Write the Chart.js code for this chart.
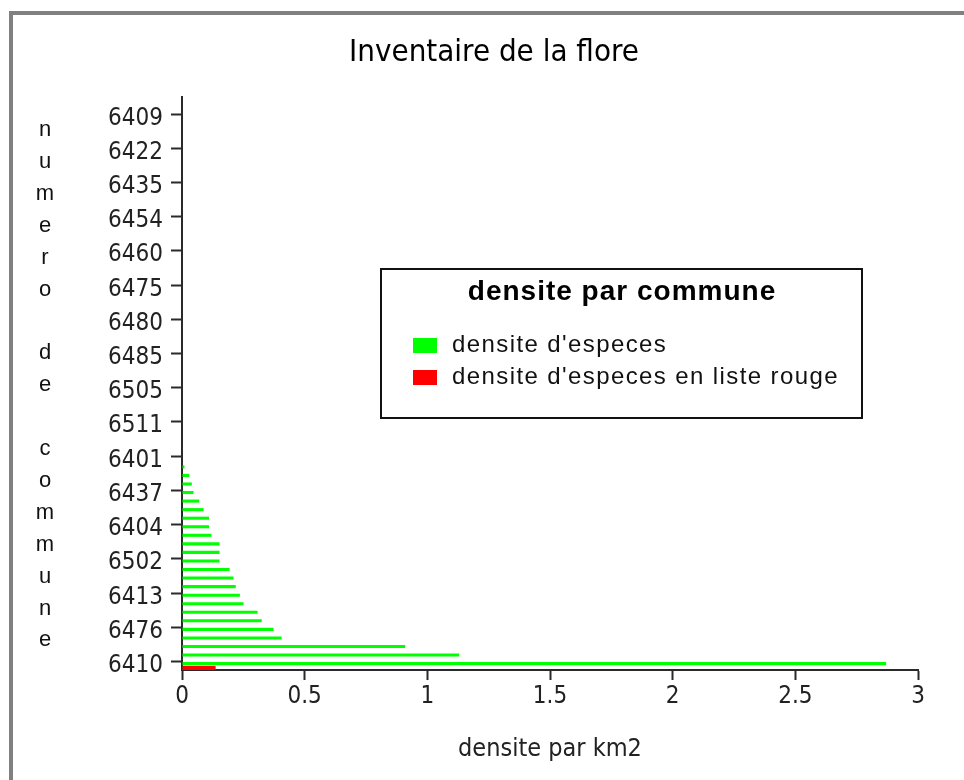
<!DOCTYPE html>
<html>
<head>
<meta charset="utf-8">
<script src="https://cdn.jsdelivr.net/npm/chart.js@4.4.1/dist/chart.umd.min.js"></script>
<style>
  html, body { margin: 0; padding: 0; background: #fff; }
  #wrap { position: relative; width: 964px; height: 780px; }
</style>
</head>
<body>
<div id="wrap"><canvas id="c" width="964" height="780"></canvas></div>
<script>
// Communes (top to bottom); '' = commune whose number is not printed on the axis
const communes = [
  '', '', '6409', '', '', '', '6422', '', '', '', '6435', '', '', '', '6454', '', '', '',
  '6460', '', '', '', '6475', '', '', '', '6480', '', '', '', '6485', '', '', '',
  '6505', '', '', '', '6511', '', '', '', '6401', '', '', '', '6437', '', '', '',
  '6404', '', '', '', '6502', '', '', '', '6413', '', '', '', '6476', '', '', '', '6410'
];
// densite d'especes (per km2)
const densiteEspeces = [
  0, 0, 0, 0, 0, 0, 0, 0, 0, 0, 0, 0, 0, 0, 0, 0, 0, 0,
  0, 0, 0, 0, 0, 0, 0, 0, 0, 0, 0, 0, 0, 0, 0, 0,
  0, 0, 0, 0, 0, 0, 0, 0, 0, 0.01, 0.03, 0.04, 0.047, 0.07, 0.088, 0.11,
  0.11, 0.12, 0.153, 0.153, 0.153, 0.194, 0.21, 0.219, 0.236, 0.251, 0.308, 0.325,
  0.373, 0.406, 0.91, 1.13, 2.87
];
// densite d'especes en liste rouge (per km2)
const densiteListeRouge = [
  0, 0, 0, 0, 0, 0, 0, 0, 0, 0, 0, 0, 0, 0, 0, 0, 0, 0,
  0, 0, 0, 0, 0, 0, 0, 0, 0, 0, 0, 0, 0, 0, 0, 0,
  0, 0, 0, 0, 0, 0, 0, 0, 0, 0, 0, 0, 0, 0, 0, 0,
  0, 0, 0, 0, 0, 0, 0, 0, 0, 0, 0, 0, 0, 0, 0, 0, 0.137
];
const xTicks = [0, 0.5, 1, 1.5, 2, 2.5, 3];
const seriesNames = ["densite d'especes", "densite d'especes en liste rouge"];
const seriesColors = ['#00ff00', '#ff0000'];
const chartTitle = 'Inventaire de la flore';
const legendTitle = 'densite par commune';
const xTitle = 'densite par km2';
const yTitle = 'numero de commune';

const NARROW = "'Liberation Sans Narrow', 'Arial Narrow', 'DejaVu Sans Condensed', sans-serif";
const REG = "'Liberation Sans', Arial, sans-serif";
const AXIS = '#2a2a2a';

const framePlugin = {
  id: 'frame',
  beforeDraw(chart) {
    const ctx = chart.ctx;
    ctx.save();
    ctx.fillStyle = '#ffffff';
    ctx.fillRect(0, 0, chart.width, chart.height);
    ctx.fillStyle = '#808080';
    ctx.fillRect(9, 11, chart.width - 9, 4);
    ctx.fillRect(9, 11, 4, chart.height - 11);
    ctx.restore();
  }
};

const titlePlugin = {
  id: 'toptitle',
  afterDraw(chart) {
    const ctx = chart.ctx;
    ctx.save();
    ctx.fillStyle = '#000';
    ctx.font = '31px ' + NARROW;
    ctx.textAlign = 'center';
    ctx.textBaseline = 'middle';
    ctx.fillText(chartTitle, 494, 53);
    ctx.restore();
  }
};

const yTitlePlugin = {
  id: 'ytitle',
  afterDraw(chart) {
    const ctx = chart.ctx;
    ctx.save();
    ctx.fillStyle = '#111';
    ctx.font = '22px ' + REG;
    ctx.textAlign = 'center';
    ctx.textBaseline = 'middle';
    yTitle.split('').forEach((ch, i) => {
      if (ch !== ' ') ctx.fillText(ch, 45, 130 + i * 31.9);
    });
    ctx.restore();
  }
};

const boxLegendPlugin = {
  id: 'boxlegend',
  afterDraw(chart) {
    const ctx = chart.ctx;
    ctx.save();
    ctx.strokeStyle = '#111';
    ctx.lineWidth = 2;
    ctx.strokeRect(381, 269, 481, 149);
    ctx.fillStyle = '#000';
    ctx.font = 'bold 28px ' + REG;
    ctx.letterSpacing = '1px';
    ctx.textAlign = 'center';
    ctx.textBaseline = 'middle';
    ctx.fillText(legendTitle, 622, 292);
    ctx.font = '24px ' + REG;
    ctx.letterSpacing = '1.4px';
    ctx.textAlign = 'left';
    chart.data.datasets.forEach((ds, i) => {
      const y = 345 + i * 32;
      ctx.fillStyle = ds.backgroundColor;
      ctx.fillRect(413, y - 7, 24, 15);
      ctx.fillStyle = '#111';
      ctx.fillText(ds.label, 452, y);
    });
    ctx.restore();
  }
};

new Chart(document.getElementById('c'), {
  type: 'bar',
  data: {
    labels: communes,
    datasets: [
      { label: seriesNames[0], data: densiteEspeces, backgroundColor: seriesColors[0], barPercentage: 0.72, categoryPercentage: 1.0 },
      { label: seriesNames[1], data: densiteListeRouge, backgroundColor: seriesColors[1], barPercentage: 0.95, categoryPercentage: 1.0 }
    ]
  },
  options: {
    indexAxis: 'y',
    responsive: false,
    animation: false,
    layout: { padding: { left: 0, right: 46, top: 97, bottom: 0 } },
    plugins: {
      legend: { display: false },
      tooltip: { enabled: false },
      title: { display: false }
    },
    scales: {
      x: {
        type: 'linear',
        min: 0,
        max: 3,
        afterBuildTicks(s) { s.ticks = xTicks.map(v => ({ value: v })); },
        ticks: { color: '#222', font: { family: NARROW, size: 24 }, padding: 2, callback: (v) => String(v) },
        grid: { drawOnChartArea: false, drawTicks: true, tickLength: 10, tickColor: AXIS, tickWidth: 2 },
        border: { display: true, color: AXIS, width: 2 },
        title: { display: true, text: xTitle, color: '#222', font: { family: NARROW, size: 25 }, padding: { top: 0, bottom: 16 } },
        afterFit(s) { s.height = 110; }
      },
      y: {
        type: 'category',
        offset: true,
        ticks: {
          autoSkip: false,
          color: '#222',
          font: { family: NARROW, size: 24 },
          padding: 8,
          callback(v, i) { return communes[i]; }
        },
        grid: {
          drawOnChartArea: false,
          drawTicks: true,
          tickLength: 11,
          tickWidth: 2,
          tickColor: (ctx) => (communes[ctx.index] ? AXIS : 'rgba(0,0,0,0)')
        },
        border: { display: true, color: AXIS, width: 2 },
        afterFit(s) { s.width = 182; }
      }
    }
  },
  plugins: [framePlugin, titlePlugin, yTitlePlugin, boxLegendPlugin]
});
</script>
</body>
</html>
